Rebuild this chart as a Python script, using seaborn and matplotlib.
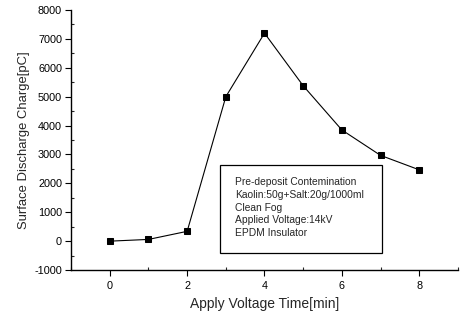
import matplotlib
matplotlib.use("Agg")
import matplotlib.pyplot as plt
import matplotlib.patches as mpatches
from matplotlib.ticker import MultipleLocator
import pandas as pd
import seaborn as sns

# data
time_min = [0, 1, 2, 3, 4, 5, 6, 7, 8]
charge_pc = [0, 60, 340, 5000, 7200, 5380, 3850, 2970, 2470]
note_lines = [
    "Pre-deposit Contemination",
    "Kaolin:50g+Salt:20g/1000ml",
    "Clean Fog",
    "Applied Voltage:14kV",
    "EPDM Insulator",
]

df = pd.DataFrame({"t": time_min, "q": charge_pc})

sns.set_style("ticks")
plt.rcParams["font.family"] = ["Liberation Sans", "DejaVu Sans"]
plt.rcParams["axes.unicode_minus"] = False

fig = plt.figure(figsize=(4.62, 3.14), dpi=100)
ax = fig.add_axes([0.154, 0.140, 0.837, 0.828])

sns.lineplot(data=df, x="t", y="q", ax=ax, color="black", linewidth=0.8,
             marker="s", markersize=4, markeredgecolor="black")

ax.set_xlim(-1, 9)
ax.set_ylim(-1000, 8000)
ax.xaxis.set_major_locator(MultipleLocator(2))
ax.xaxis.set_minor_locator(MultipleLocator(1))
ax.yaxis.set_major_locator(MultipleLocator(1000))
ax.yaxis.set_minor_locator(MultipleLocator(500))
ax.tick_params(which="major", direction="out", length=4, width=0.8, labelsize=7.8, colors="black")
ax.tick_params(axis="x", which="major", pad=4)
ax.tick_params(axis="y", which="major", pad=2.5)
ax.tick_params(which="minor", direction="in", length=2.5, width=0.8)
for s in ["left", "bottom"]:
    ax.spines[s].set_linewidth(1.0)
    ax.spines[s].set_color("black")
sns.despine(ax=ax)

ax.set_xlabel("Apply Voltage Time[min]", fontsize=10)
ax.set_ylabel("Surface Discharge Charge[pC]", fontsize=9.4)
ax.xaxis.labelpad = 4
ax.yaxis.labelpad = 3

# annotation box
box = mpatches.Rectangle((0.385, 0.065), 0.419, 0.339, transform=ax.transAxes,
                         fill=False, edgecolor="black", linewidth=0.9)
ax.add_patch(box)
for i, line in enumerate(note_lines):
    ax.text(0.424, 0.338 - i * 0.049, line, transform=ax.transAxes,
            fontsize=7.4, va="center", ha="left")

fig.savefig("out.png", dpi=100)
